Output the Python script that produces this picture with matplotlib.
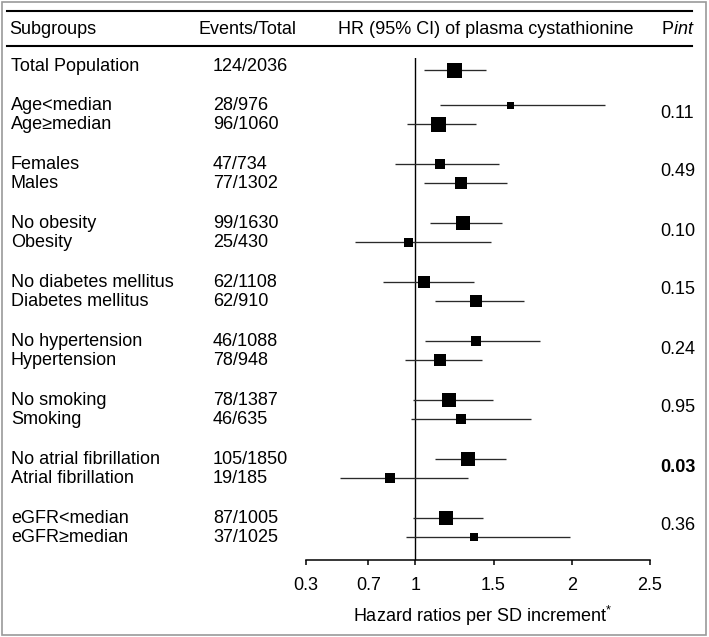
import matplotlib
matplotlib.use("Agg")
import matplotlib.pyplot as plt
from matplotlib.patches import Rectangle

plt.rcParams['font.family'] = ['Liberation Sans', 'DejaVu Sans']
plt.rcParams['mathtext.fontset'] = 'custom'
plt.rcParams['mathtext.rm'] = 'Liberation Sans'
plt.rcParams['mathtext.it'] = 'Liberation Sans:italic'

# ---------------- data ----------------
subgroups = ["Total Population",
             "Age<median", "Age\u2265median",
             "Females", "Males",
             "No obesity", "Obesity",
             "No diabetes mellitus", "Diabetes mellitus",
             "No hypertension", "Hypertension",
             "No smoking", "Smoking",
             "No atrial fibrillation", "Atrial fibrillation",
             "eGFR<median", "eGFR\u2265median"]
events = ["124/2036",
          "28/976", "96/1060",
          "47/734", "77/1302",
          "99/1630", "25/430",
          "62/1108", "62/910",
          "46/1088", "78/948",
          "78/1387", "46/635",
          "105/1850", "19/185",
          "87/1005", "37/1025"]
hr = [1.245,
      1.605, 1.147,
      1.156, 1.294,
      1.305, 0.955,
      1.056, 1.388,
      1.388, 1.156,
      1.217, 1.292,
      1.337, 0.836,
      1.194, 1.377]
ci_low = [1.054,
          1.160, 0.947,
          0.870, 1.054,
          1.094, 0.617,
          0.792, 1.124,
          1.064, 0.936,
          0.987, 0.973,
          1.124, 0.517,
          0.987, 0.942]
ci_high = [1.454,
           2.214, 1.390,
           1.535, 1.586,
           1.556, 1.484,
           1.375, 1.693,
           1.797, 1.424,
           1.498, 1.737,
           1.578, 1.337,
           1.434, 1.990]
p_int = ["0.11", "0.49", "0.10", "0.15", "0.24", "0.95", "0.03", "0.36"]
p_bold = [False, False, False, False, False, False, True, False]
x_ticks = [0.3, 0.7, 1, 1.5, 2, 2.5]
x_ticklabels = ["0.3", "0.7", "1", "1.5", "2", "2.5"]

# box sizes (px) as drawn
box_px = [15, 7, 15, 10.7, 12.7, 13.3, 9, 12, 12.7, 9.7, 12.3, 13.3, 9.7, 14.3, 9.7, 13.3, 8.3]

# ---------------- layout ----------------
W, H = 709, 637
fig = plt.figure(figsize=(W / 100, H / 100), dpi=100)
ax = fig.add_axes([0, 0, 1, 1])
ax.set_xlim(0, W)
ax.set_ylim(H, 0)
ax.axis('off')

# row y positions (pixels from top)
first_y = 70
pair_start = 105
pair_pitch = 59
within = 19
row_y = [first_y]
for k in range(8):
    row_y.append(pair_start + k * pair_pitch)
    row_y.append(pair_start + k * pair_pitch + within)

FS = 13
ax_x0, ax_x1 = 305.7, 650.0
ax_ytop, ax_ybot = 58, 560

fx = fig.add_axes([ax_x0 / W, 1 - ax_ybot / H, (ax_x1 - ax_x0) / W, (ax_ybot - ax_ytop) / H])
fx.set_xlim(0.3, 2.5)
fx.set_ylim(ax_ybot, ax_ytop)
fx.patch.set_alpha(0)
for s in ['top', 'right', 'left']:
    fx.spines[s].set_visible(False)
fx.spines['bottom'].set_linewidth(1.1)
fx.set_yticks([])
fx.set_xticks(x_ticks)
fx.set_xticklabels(x_ticklabels, fontsize=FS)
fx.tick_params(axis='x', direction='out', length=3.5, width=1.1, pad=8.5, colors='black')

fx.axvline(1, color='black', lw=1.0)
for i in range(len(hr)):
    fx.plot([ci_low[i], ci_high[i]], [row_y[i], row_y[i]], color='#2a2a2a', lw=0.95,
            solid_capstyle='butt', zorder=2)
    fx.plot([hr[i]], [row_y[i]], marker='s', color='black', markersize=box_px[i] * 0.72,
            markeredgewidth=0, zorder=3)

# header lines
ax.plot([7, 692], [11, 11], color='black', lw=1.5)
ax.plot([7, 692], [45.5, 45.5], color='black', lw=1.5)

# header text
hb = 34
ax.text(9, hb, "Subgroups", fontsize=FS, va='baseline', ha='left')
ax.text(199, hb, "Events/Total", fontsize=FS, va='baseline', ha='left')
ax.text(338, hb, "HR (95% CI) of plasma cystathionine", fontsize=FS, va='baseline', ha='left')
ax.text(661, hb, "P$\\mathit{int}$", fontsize=FS, va='baseline', ha='left')

# row text
for i in range(len(subgroups)):
    b = row_y[i] + 5
    if i == 0:
        b = row_y[i] + 1
    ax.text(11, b, subgroups[i], fontsize=FS, va='baseline', ha='left')
    ax.text(213, b, events[i], fontsize=FS, va='baseline', ha='left')

for k in range(8):
    mid = (row_y[1 + 2 * k] + row_y[2 + 2 * k]) / 2
    ax.text(660, mid + 3, p_int[k], fontsize=FS, va='baseline', ha='left',
            fontweight='bold' if p_bold[k] else 'normal')

# axis label
ax.text((ax_x0 + ax_x1) / 2 + 5, 622, "Hazard ratios per SD increment$^{*}$", fontsize=FS,
        va='baseline', ha='center')

# outer border
ax.add_patch(Rectangle((1.5, 1.5), 704.5, 633.5, fill=False, edgecolor='#9a9a9a', lw=1.2))

fig.savefig("out.png", dpi=100)
